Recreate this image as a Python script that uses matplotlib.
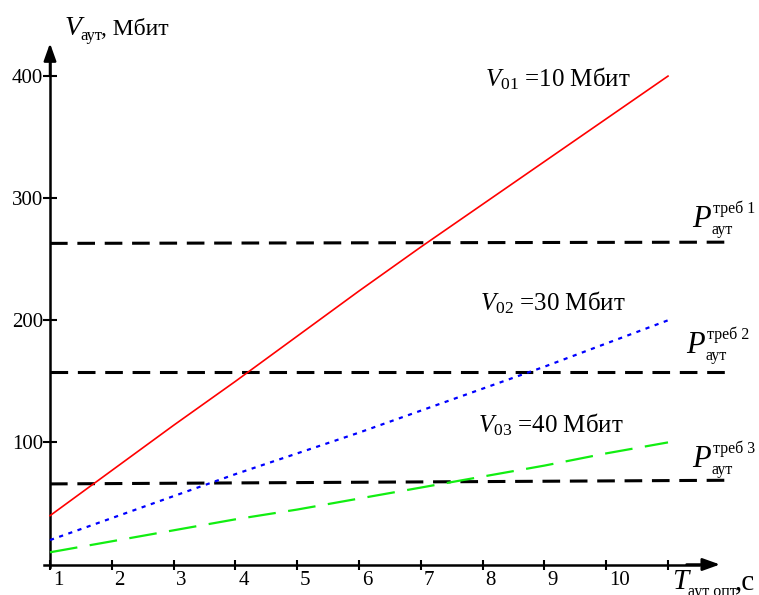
import matplotlib
matplotlib.use('Agg')
import matplotlib.pyplot as plt
import matplotlib.transforms as mtransforms

plt.rcParams['font.family'] = ['Liberation Serif', 'DejaVu Serif']
plt.rcParams['mathtext.fontset'] = 'custom'
plt.rcParams['mathtext.rm'] = 'Liberation Serif'
plt.rcParams['mathtext.it'] = 'Liberation Serif:italic'
plt.rcParams['mathtext.bf'] = 'Liberation Serif:bold'
plt.rcParams['lines.scale_dashes'] = False

# ---- data ----
T = [1, 2, 3, 4, 5, 6, 7, 8, 9, 10, 11]
V1 = [40, 77, 114, 150, 187, 224, 260, 295, 330, 365, 400]   # V01 = 10 Мбит
V2 = [20, 38, 56, 74, 91, 108, 126, 144, 162, 181, 200]      # V02 = 30 Мбит
V3 = [10, 19, 28, 37, 45, 54, 63, 72, 81, 91, 100]           # V03 = 40 Мбит
req_T = [1, 12]
P1 = [263, 264]
P2 = [158, 158]
P3 = [66, 69]
xticks = [1, 2, 3, 4, 5, 6, 7, 8, 9, 10, 11]
xticklabels = ['1', '2', '3', '4', '5', '6', '7', '8', '9', '10', '']
yticks = [100, 200, 300, 400]
yticklabels = ['100', '200', '300', '400']

# ---- layout ----
W, H = 759, 595
fig = plt.figure(figsize=(W / 100, H / 100), dpi=100)
ax = fig.add_axes([0, 0, 1, 1])
x0px, dx = 50, 61.8
y0px, dy = 564.5, 1.221
ax.set_xlim(1 - x0px / dx, 1 + (W - x0px) / dx)
ax.set_ylim((y0px - H) / dy, y0px / dy)
ax.patch.set_visible(False)

for s in ['top', 'right']:
    ax.spines[s].set_visible(False)
ax.spines['left'].set_position(('data', 1))
ax.spines['bottom'].set_position(('data', 0))
ax.spines['left'].set_linewidth(1.8)
ax.spines['bottom'].set_linewidth(1.8)
ax.spines['left'].set_bounds(-2, 415)
ax.spines['bottom'].set_bounds(0.903, 11.5)

ytip = (y0px - 43.3) / dy
xtip = 1 + (720 - x0px) / dx
arr = dict(arrowstyle='-|>,head_length=0.7,head_width=0.25', color='k', lw=1.8,
           shrinkA=0, shrinkB=0, mutation_scale=15)
ax.annotate('', xy=(1, ytip), xytext=(1, 400), arrowprops=arr)
ax.annotate('', xy=(xtip, 0), xytext=(11.3, 0), arrowprops=arr)

ax.set_xticks(xticks)
ax.set_xticklabels(xticklabels)
ax.set_yticks(yticks)
ax.set_yticklabels(yticklabels)
ax.tick_params(axis='x', direction='inout', length=7.5, width=1.5, labelsize=15, pad=1.2)
ax.tick_params(axis='y', direction='inout', length=9.4, width=1.5, labelsize=15, pad=0.3)
off = mtransforms.ScaledTranslation(2 / 72, 0, fig.dpi_scale_trans)
for lbl in ax.get_xticklabels():
    lbl.set_ha('left')
    lbl.set_transform(lbl.get_transform() + off)

# ---- lines ----
ax.plot(req_T, P1, color='black', lw=2.2, dashes=(12.7, 7), zorder=2)
ax.plot(req_T, P2, color='black', lw=2.2, dashes=(12.7, 7), zorder=2)
ax.plot(req_T, P3, color='black', lw=2.2, dashes=(12.7, 7), zorder=2)
ax.plot(T, V1, color='#ff0000', lw=1.2, zorder=3)
ax.plot(T, V2, color='#0000ff', lw=1.6, dashes=(3, 4), zorder=3)
ax.plot(T, V3, color='#11ee11', lw=1.6, dashes=(20, 9), zorder=3)

# ---- texts ----
def ptext(x, y, s, size, style='normal'):
    fig.text(x / W, 1 - y / H, s, fontsize=size, ha='left', va='baseline',
             style=style)

# y-axis label
ptext(65, 35, 'V', 20, 'italic')
ptext(80, 40, 'аут', 12)
ptext(101, 35, ', Мбит', 17)

# curve labels
ptext(485, 86, r'$V_{01}$ =10 Мбит', 18)
ptext(480, 310, r'$V_{02}$ =30 Мбит', 18)
ptext(478, 432, r'$V_{03}$ =40 Мбит', 18)

# requirement labels
for (px, py, num) in [(692, 227, '1'), (686, 353, '2'), (692, 467, '3')]:
    ptext(px, py, 'P', 22, 'italic')
    ptext(px + 21, py - 14, 'треб ' + num, 11.5)
    ptext(px + 19, py + 7, 'аут', 11.5)

# x-axis label
ptext(672, 589, 'T', 21, 'italic')
ptext(688, 596, 'аут опт', 11.5)
ptext(735, 589, ',с', 21)

fig.savefig('out.png', dpi=100)
